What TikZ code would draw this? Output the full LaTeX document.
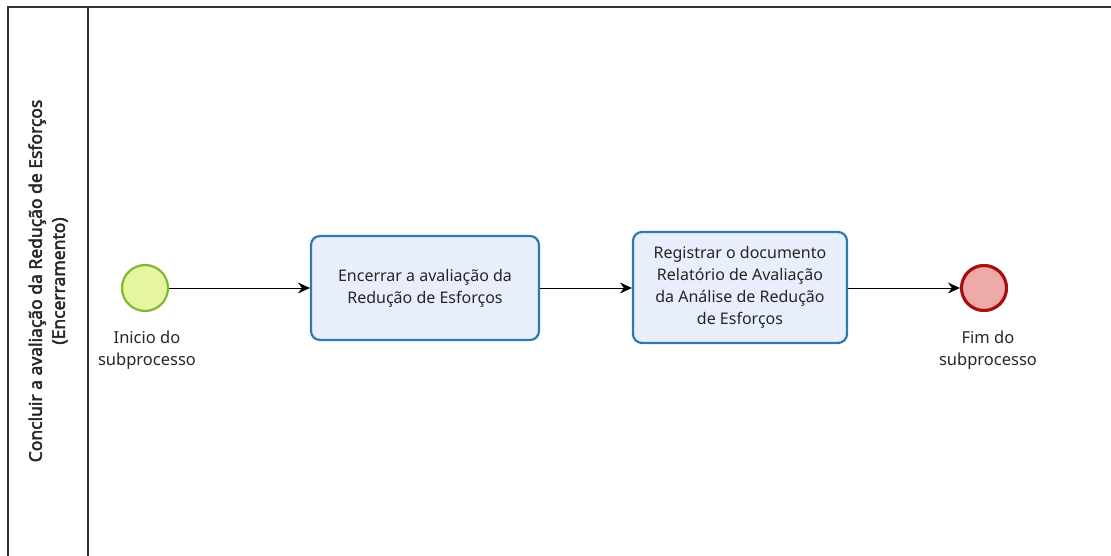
\documentclass[tikz,border=0pt]{standalone}
\usepackage{fontspec}
\setmainfont{Noto Sans}[AutoFakeBold=2.5]
\usetikzlibrary{arrows.meta}
\definecolor{taskfill}{HTML}{E8EEFB}
\definecolor{taskdraw}{HTML}{2E7AAB}
\definecolor{startfill}{HTML}{E6F5A0}
\definecolor{startdraw}{HTML}{7DBA2F}
\definecolor{endfill}{HTML}{EEA9A9}
\definecolor{enddraw}{HTML}{A50F0F}
\definecolor{frame}{HTML}{333333}
\tikzset{
  task/.style={draw=taskdraw, fill=taskfill, line width=2.2pt, rounded corners=9pt, align=center, font=\fontsize{16}{22}\selectfont, text=black!85},
  startev/.style={circle, draw=startdraw, fill=startfill, line width=2.2pt, minimum size=46pt, inner sep=0pt},
  endev/.style={circle, draw=enddraw, fill=endfill, line width=3.2pt, minimum size=45pt, inner sep=0pt},
  evlabel/.style={align=center, font=\fontsize{16.5}{22}\selectfont, text=black!85},
  flow/.style={line width=1pt, -{Stealth[length=12pt,width=11pt,inset=4pt]}},
}
\begin{document}
\begin{tikzpicture}[x=1pt,y=-1pt]
\useasboundingbox (0,0) rectangle (1111,556);
% frame
\draw[frame, line width=1.2pt] (1111,7) -- (8,7) -- (8,556);
\draw[frame, line width=1.2pt] (88,7) -- (88,556);
\node[rotate=90, align=center, font=\bfseries\fontsize{17.5}{23}\selectfont, text=black!85] (lane) at (48,281) {Concluir a avaliação da Redução de Esforços\\(Encerramento)};
% nodes
\node[startev] (start) at (145,288) {};
\node[evlabel] (startlbl) at (147,350) {Inicio do\\subprocesso};
\node[task, minimum width=228pt, minimum height=104pt] (t1) at (425,288) {Encerrar a avaliação da\\Redução de Esforços};
\node[task, minimum width=214pt, minimum height=111pt] (t2) at (740,287.5) {Registrar o documento\\Relatório de Avaliação\\da Análise de Redução\\de Esforços};
\node[endev] (end) at (984,288) {};
\node[evlabel] (endlbl) at (988,350) {Fim do\\subprocesso};
% flows
\draw[flow] (start) -- (t1);
\draw[flow] (t1.east) -- (t1.east -| t2.west);
\draw[flow] (t2.east |- end) -- (end);
\end{tikzpicture}
\end{document}
